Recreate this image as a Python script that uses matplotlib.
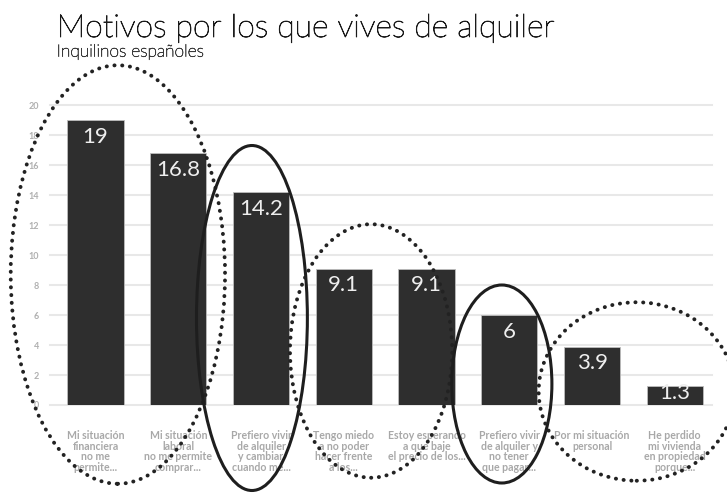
import matplotlib
matplotlib.use('Agg')
import matplotlib.pyplot as plt
import matplotlib.patheffects as pe
from matplotlib.patches import Ellipse

plt.rcParams['font.family'] = ['Lato', 'DejaVu Sans']

# Datos del grafico
motivos = [
    'Mi situación\nfinanciera\nno me\npermite...',
    'Mi situación\nlaboral\nno me permite\ncomprar...',
    'Prefiero vivir\nde alquiler\ny cambiar\ncuando me...',
    'Tengo miedo\na no poder\nhacer frente\na los...',
    'Estoy esperando\na que baje\nel precio de los...',
    'Prefiero vivir\nde alquiler y\nno tener\nque pagar...',
    'Por mi situación\npersonal',
    'He perdido\nmi vivienda\nen propiedad\nporque...',
]
valores = [19, 16.8, 14.2, 9.1, 9.1, 6, 3.9, 1.3]
etiquetas = ['19', '16.8', '14.2', '9.1', '9.1', '6', '3.9', '1.3']
yticks = [0, 2, 4, 6, 8, 10, 12, 14, 16, 18, 20]

# Elipses dibujadas encima (centro x, centro y, ancho, alto, punteada?)
elipses = [
    (0.27, 8.7, 2.59, 27.9, True),
    (1.89, 5.8, 1.34, 23.0, False),
    (3.33, 3.6, 1.96, 16.9, True),
    (4.91, 1.4, 1.21, 13.2, False),
    (6.54, 0.9, 2.37, 11.9, True),
]


def main():
    fig = plt.figure(figsize=(7.27, 4.93), dpi=100)
    ax = fig.add_axes([0.0688, 0.1785, 0.9106, 0.6085])

    x = list(range(len(valores)))
    ax.bar(x, valores, width=0.68, color='#2e2e2e', edgecolor='#bdbdbd',
           linewidth=0.6, zorder=3)

    for xi, v, t in zip(x, valores, etiquetas):
        if v > 2.5:
            ax.text(xi, v - 0.45, t, ha='center', va='top', fontsize=16,
                    color='#eeeeee', zorder=4)
        else:
            # barra baja: etiqueta centrada
            ax.text(xi, v * 0.6, t, ha='center', va='center', fontsize=16,
                    color='#eeeeee', zorder=4)

    ax.set_xlim(-0.55, 7.45)
    ax.set_ylim(0, 20)
    ax.set_yticks(yticks)
    ax.set_yticklabels([str(t) for t in yticks], fontsize=6.5,
                       color='#b0b0b0', fontweight='bold')
    ax.set_xticks(x)
    ax.set_xticklabels(motivos, fontsize=7.6, color='#a8a8a8',
                       fontweight='bold', linespacing=0.95, va='top')
    ax.tick_params(axis='both', length=0)
    ax.tick_params(axis='x', pad=18)
    ax.tick_params(axis='y', pad=8)
    ax.grid(axis='y', color='#e8e8e8', linewidth=1.5, zorder=0)
    for gl in ax.get_ygridlines():
        gl.set_clip_on(False)
    for s in ax.spines.values():
        s.set_visible(False)

    for cx, cy, w, h, punteada in elipses:
        if punteada:
            e = Ellipse((cx, cy), w, h, fill=False, edgecolor='#222222',
                        linewidth=2.8, linestyle=(0, (0.05, 1.95)),
                        capstyle='round', zorder=6, clip_on=False)
        else:
            e = Ellipse((cx, cy), w, h, fill=False, edgecolor='#1e1e1e',
                        linewidth=2.2, zorder=6, clip_on=False)
        ax.add_patch(e)

    fig.text(0.078, 0.925, 'Motivos por los que vives de alquiler',
             fontsize=23, fontweight='light', color='#1a1a1a', va='baseline',
             path_effects=[pe.withStroke(linewidth=0.6, foreground='#1a1a1a')])
    fig.text(0.078, 0.885, 'Inquilinos españoles', fontsize=12.5,
             fontweight='light', color='#3a3a3a', va='baseline',
             path_effects=[pe.withStroke(linewidth=0.4, foreground='#3a3a3a')])

    fig.savefig('out.png', dpi=100)


if __name__ == '__main__':
    main()
